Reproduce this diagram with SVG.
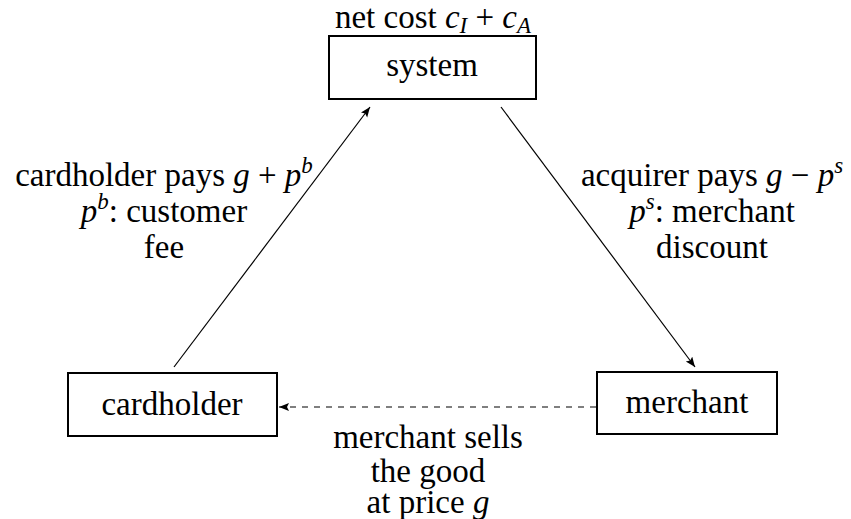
<svg xmlns="http://www.w3.org/2000/svg" width="851" height="519" viewBox="0 0 851 519" font-family="Liberation Serif, Times New Roman, serif">
<style>
text{fill:#000;text-anchor:middle;font-size:33px}
.m{font-style:italic}
.sup{font-size:23px;font-style:italic}
.box{fill:#fff;stroke:#000;stroke-width:2}
.edge{fill:none;stroke:#000;stroke-width:1.2}
.dash{stroke-dasharray:6 6}
</style>
<defs>
<marker id="ah" markerUnits="userSpaceOnUse" markerWidth="12" markerHeight="10" refX="10" refY="4" orient="auto">
<path d="M0,0 L10,4 L0,8 L2,4 z" fill="#000"/>
</marker>
</defs>
<g id="edges">
<line class="edge" x1="174" y1="367" x2="370" y2="107" marker-end="url(#ah)"/>
<line class="edge" x1="501" y1="107" x2="695" y2="367" marker-end="url(#ah)"/>
<line class="edge dash" x1="596" y1="407" x2="279" y2="407" marker-end="url(#ah)"/>
</g>
<g id="system">
<rect class="box" x="329" y="36" width="207" height="63"/>
<text x="432" y="76" font-family="Liberation Serif, Times New Roman, serif">system</text>
<text x="433" y="28" font-family="Liberation Serif, Times New Roman, serif">net cost <tspan class="m">c</tspan><tspan class="sup" dy="5">I</tspan><tspan dy="-5"> + </tspan><tspan class="m">c</tspan><tspan class="sup" dy="5">A</tspan></text>
</g>
<g id="cardholder">
<rect class="box" x="68" y="373" width="209" height="63"/>
<text x="172" y="415" font-family="Liberation Serif, Times New Roman, serif">cardholder</text>
</g>
<g id="merchant">
<rect class="box" x="597" y="372" width="180" height="62"/>
<text x="687" y="413" font-family="Liberation Serif, Times New Roman, serif">merchant</text>
</g>
<g id="labels">
<text x="164" y="186" font-family="Liberation Serif, Times New Roman, serif">cardholder pays <tspan class="m">g</tspan> + <tspan class="m">p</tspan><tspan class="sup" dy="-13">b</tspan></text>
<text x="164" y="222" font-family="Liberation Serif, Times New Roman, serif"><tspan class="m">p</tspan><tspan class="sup" dy="-13">b</tspan><tspan dy="13">: customer</tspan></text>
<text x="164" y="258" font-family="Liberation Serif, Times New Roman, serif">fee</text>
<text x="712" y="186" font-family="Liberation Serif, Times New Roman, serif">acquirer pays <tspan class="m">g</tspan> − <tspan class="m">p</tspan><tspan class="sup" dy="-13">s</tspan></text>
<text x="712" y="222" font-family="Liberation Serif, Times New Roman, serif"><tspan class="m">p</tspan><tspan class="sup" dy="-13">s</tspan><tspan dy="13">: merchant</tspan></text>
<text x="712" y="258" font-family="Liberation Serif, Times New Roman, serif">discount</text>
<text x="428" y="448" font-family="Liberation Serif, Times New Roman, serif">merchant sells</text>
<text x="428" y="482" font-family="Liberation Serif, Times New Roman, serif">the good</text>
<text x="428" y="513" font-family="Liberation Serif, Times New Roman, serif">at price <tspan class="m">g</tspan></text>
</g>
</svg>
